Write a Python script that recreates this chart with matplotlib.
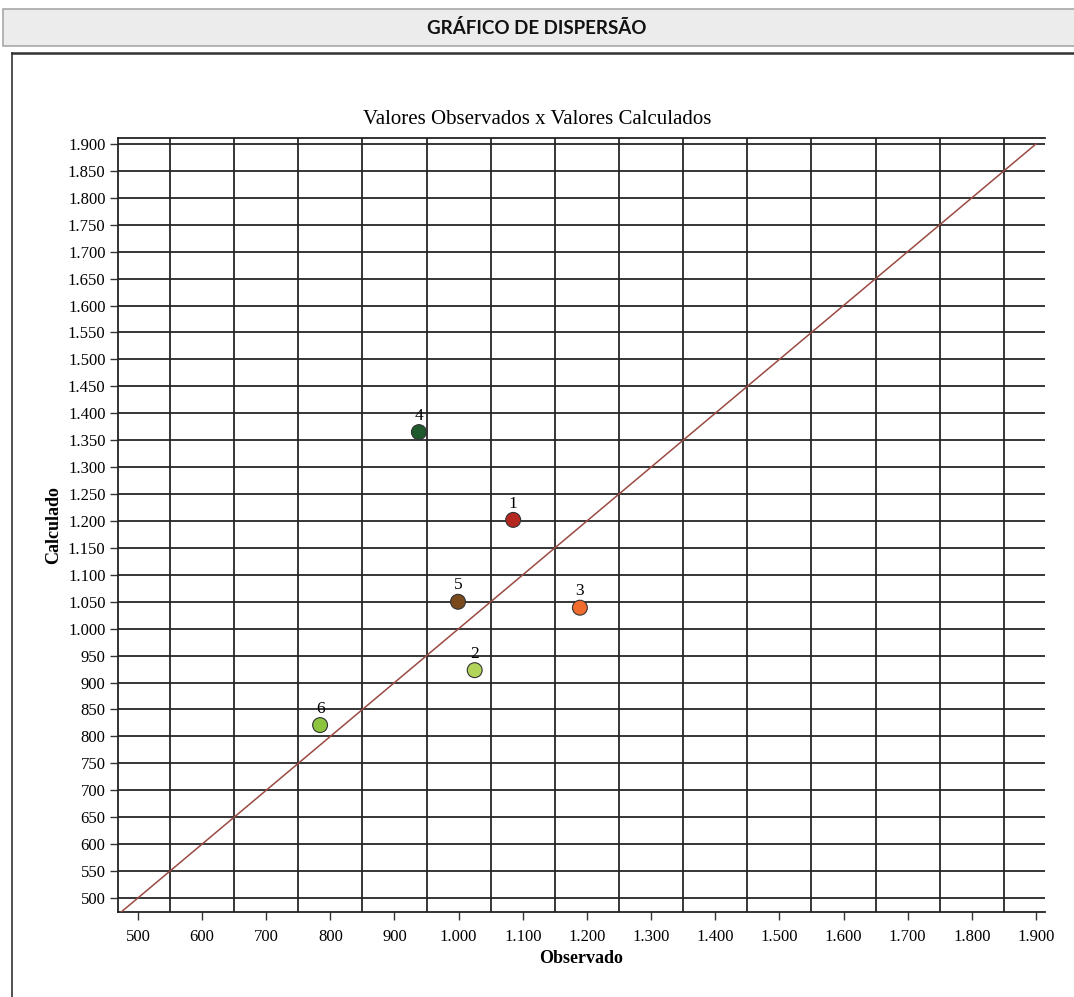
import matplotlib
matplotlib.use('Agg')
import matplotlib.pyplot as plt
from matplotlib.patches import Rectangle
from matplotlib.lines import Line2D
from matplotlib.ticker import FixedLocator, FuncFormatter

# dados
pontos = ['1', '2', '3', '4', '5', '6']
observado = [1085, 1025, 1189, 938, 999, 784]
calculado = [1202, 923, 1039, 1365, 1050, 821]
cores = ['#b5281f', '#b3d45a', '#ef6c2e', '#1f5a2c', '#7a4a1c', '#8cc43e']

xticks = list(range(500, 2000, 100))
xgrid = list(range(550, 1900, 100))
yticks = list(range(500, 1950, 50))

def milhar(v, pos=None):
    return '{:,}'.format(int(v)).replace(',', '.')

W, H = 1074, 997
fig = plt.figure(figsize=(W / 100, H / 100), dpi=100)
fig.patch.set_facecolor('white')

# barra do cabecalho
fig.patches.append(Rectangle((3 / W, 1 - 46 / H), 1.0, 37 / H, transform=fig.transFigure,
                             facecolor='#ececec', edgecolor='#a8a8a8', lw=1.2))
fig.text(0.5, 1 - 28 / H, 'GRÁFICO DE DISPERSÃO', ha='center', va='center',
         family='Lato', weight='bold', fontsize=13.5, color='#111111')

# moldura do painel
fig.lines.append(Line2D([12 / W, 1.0], [1 - 53 / H, 1 - 53 / H], transform=fig.transFigure,
                        color='#333333', lw=1.8))
fig.lines.append(Line2D([12 / W, 12 / W], [0.0, 1 - 53 / H], transform=fig.transFigure,
                        color='#333333', lw=1.2))

fig.text(0.5, 1 - 120 / H, 'Valores Observados x Valores Calculados', ha='center', va='center',
         family='Liberation Serif', fontsize=15)

ax = fig.add_axes([118 / W, 85 / H, (1045 - 118) / W, (912 - 138) / H])
ax.set_xlim(469, 1914)
ax.set_ylim(474, 1911)

# grade: horizontais nos ticks, verticais deslocadas
ax.xaxis.set_major_locator(FixedLocator(xticks))
ax.xaxis.set_minor_locator(FixedLocator(xgrid))
ax.yaxis.set_major_locator(FixedLocator(yticks))
ax.xaxis.set_major_formatter(FuncFormatter(milhar))
ax.yaxis.set_major_formatter(FuncFormatter(milhar))
ax.grid(True, axis='y', which='major', color='#262626', lw=1.3)
ax.grid(True, axis='x', which='minor', color='#262626', lw=1.3)
ax.set_axisbelow(True)
ax.tick_params(axis='x', which='minor', length=0)
ax.tick_params(axis='both', which='major', direction='out', length=6, width=1, color='#333333',
               labelsize=12)
ax.tick_params(axis='x', which='major', pad=6)
ax.tick_params(axis='y', which='major', pad=3)
for lab in ax.get_xticklabels() + ax.get_yticklabels():
    lab.set_family('Liberation Serif')

ax.spines['right'].set_visible(False)
for s in ['left', 'bottom', 'top']:
    ax.spines[s].set_color('#222222')
    ax.spines[s].set_linewidth(1.3)

# linha 1:1
ax.plot([474, 1900], [474, 1900], color='#9a4a42', lw=1.1, zorder=3)

ax.scatter(observado, calculado, s=115, c=cores, edgecolors='#333333', linewidths=0.8, zorder=4)
for p, x, y in zip(pontos, observado, calculado):
    ax.annotate(p, (x, y), xytext=(0, 6), textcoords='offset points', ha='center', va='bottom',
                family='Liberation Serif', fontsize=12.5, zorder=5)

ax.set_xlabel('Observado', family='Liberation Serif', weight='bold', fontsize=13, labelpad=4)
ax.set_ylabel('Calculado', family='Liberation Serif', weight='bold', fontsize=13, labelpad=4)

plt.savefig('out.png', dpi=100)
